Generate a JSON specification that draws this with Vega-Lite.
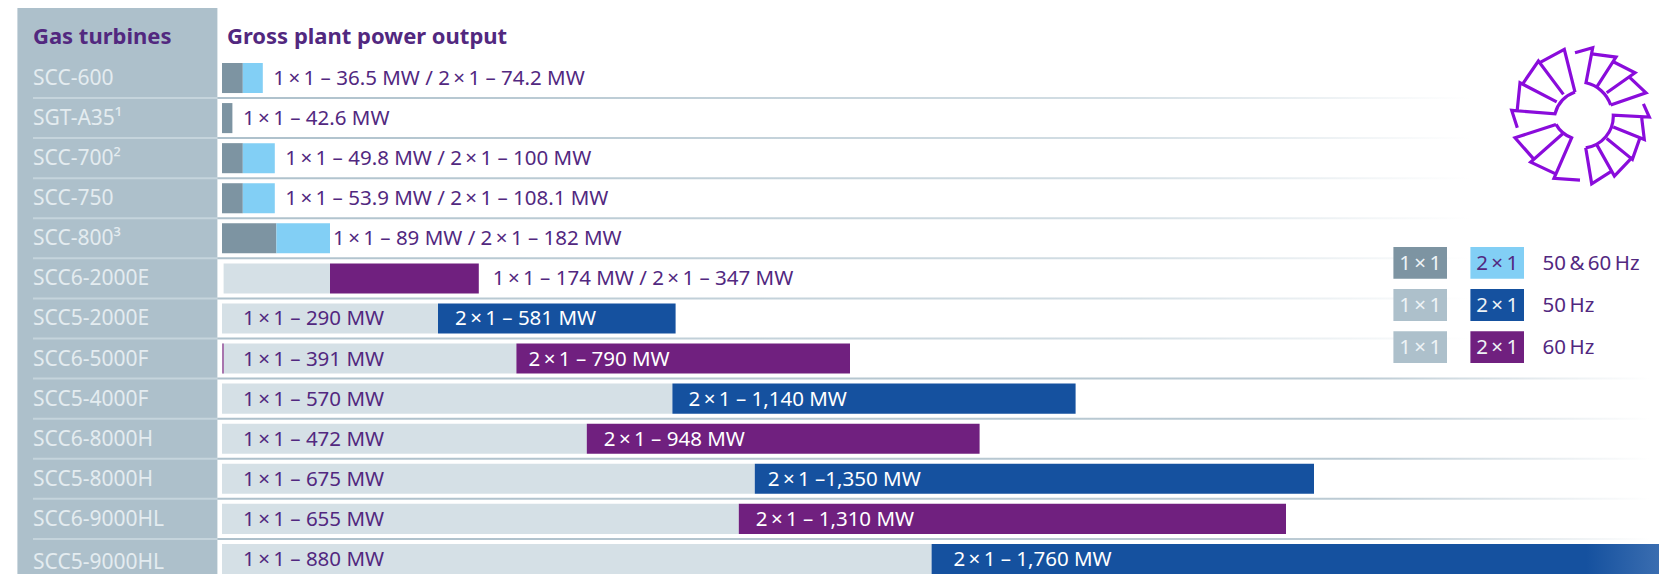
{
"$schema":"https://vega.github.io/schema/vega-lite/v6.json",
"width":1659,"height":574,
"autosize":{"type":"fit","contains":"padding"},
"padding":0,
"background":"#ffffff",
"config":{"view":{"stroke":null},"text":{"font":"Noto Sans"}},
"datasets":{
"turbines":[
{"turbine":"SCC-600","group":"upper"},{"turbine":"SGT-A35¹","group":"upper"},{"turbine":"SCC-700²","group":"upper"},{"turbine":"SCC-750","group":"upper"},{"turbine":"SCC-800³","group":"upper"},{"turbine":"SCC6-2000E","group":"upper"},{"turbine":"SCC5-2000E","group":"upper"},{"turbine":"SCC6-5000F","group":"lower"},{"turbine":"SCC5-4000F","group":"lower"},{"turbine":"SCC6-8000H","group":"lower"},{"turbine":"SCC5-8000H","group":"lower"},{"turbine":"SCC6-9000HL","group":"lower"},{"turbine":"SCC5-9000HL","group":"last"}],
"segments":[
{"turbine":"SCC-600","kind":"1x1 both","start":0,"end":26},{"turbine":"SCC-600","kind":"2x1 both","start":26,"end":51},
{"turbine":"SGT-A35¹","kind":"1x1 both","start":0,"end":13},
{"turbine":"SCC-700²","kind":"1x1 both","start":0,"end":26},{"turbine":"SCC-700²","kind":"2x1 both","start":26,"end":66},
{"turbine":"SCC-750","kind":"1x1 both","start":0,"end":26},{"turbine":"SCC-750","kind":"2x1 both","start":26,"end":66},
{"turbine":"SCC-800³","kind":"1x1 both","start":0,"end":68},{"turbine":"SCC-800³","kind":"2x1 both","start":68,"end":135},
{"turbine":"SCC6-2000E","kind":"1x1 single","start":2,"end":135},{"turbine":"SCC6-2000E","kind":"2x1 60","start":135,"end":321},
{"turbine":"SCC5-2000E","kind":"1x1 single","start":0,"end":270},{"turbine":"SCC5-2000E","kind":"2x1 50","start":270,"end":567},
{"turbine":"SCC6-5000F","kind":"1x1 single","start":0,"end":368},{"turbine":"SCC6-5000F","kind":"edge","start":0,"end":2.5},{"turbine":"SCC6-5000F","kind":"2x1 60","start":368,"end":785},
{"turbine":"SCC5-4000F","kind":"1x1 single","start":0,"end":563},{"turbine":"SCC5-4000F","kind":"2x1 50","start":563,"end":1067},
{"turbine":"SCC6-8000H","kind":"1x1 single","start":0,"end":456},{"turbine":"SCC6-8000H","kind":"2x1 60","start":456,"end":947},
{"turbine":"SCC5-8000H","kind":"1x1 single","start":0,"end":666},{"turbine":"SCC5-8000H","kind":"2x1 50","start":666,"end":1365},
{"turbine":"SCC6-9000HL","kind":"1x1 single","start":0,"end":646},{"turbine":"SCC6-9000HL","kind":"2x1 60","start":646,"end":1330},
{"turbine":"SCC5-9000HL","kind":"1x1 single","start":0,"end":887}],
"labels":[
{"turbine":"SCC-600","pos":"outer","at":51,"text":"1\u2009×\u20091 – 36.5 MW / 2\u2009×\u20091 – 74.2 MW"},
{"turbine":"SGT-A35¹","pos":"outer","at":13,"text":"1\u2009×\u20091 – 42.6 MW"},
{"turbine":"SCC-700²","pos":"outer","at":66,"text":"1\u2009×\u20091 – 49.8 MW / 2\u2009×\u20091 – 100 MW"},
{"turbine":"SCC-750","pos":"outer","at":66,"text":"1\u2009×\u20091 – 53.9 MW / 2\u2009×\u20091 – 108.1 MW"},
{"turbine":"SCC-800³","pos":"tight","at":135,"text":"1\u2009×\u20091 – 89 MW / 2\u2009×\u20091 – 182 MW"},
{"turbine":"SCC6-2000E","pos":"wide","at":321,"text":"1\u2009×\u20091 – 174 MW / 2\u2009×\u20091 – 347 MW"},
{"turbine":"SCC5-2000E","pos":"first","at":0,"text":"1\u2009×\u20091 – 290 MW"},{"turbine":"SCC5-2000E","pos":"second","at":270,"text":"2\u2009×\u20091 – 581 MW"},
{"turbine":"SCC6-5000F","pos":"first","at":0,"text":"1\u2009×\u20091 – 391 MW"},{"turbine":"SCC6-5000F","pos":"second","at":362,"text":"2\u2009×\u20091 – 790 MW"},
{"turbine":"SCC5-4000F","pos":"first","at":0,"text":"1\u2009×\u20091 – 570 MW"},{"turbine":"SCC5-4000F","pos":"second","at":562,"text":"2\u2009×\u20091 – 1,140 MW"},
{"turbine":"SCC6-8000H","pos":"first","at":0,"text":"1\u2009×\u20091 – 472 MW"},{"turbine":"SCC6-8000H","pos":"second","at":456,"text":"2\u2009×\u20091 – 948 MW"},
{"turbine":"SCC5-8000H","pos":"first","at":0,"text":"1\u2009×\u20091 – 675 MW"},{"turbine":"SCC5-8000H","pos":"second","at":661,"text":"2\u2009×\u20091 –1,350 MW"},
{"turbine":"SCC6-9000HL","pos":"first","at":0,"text":"1\u2009×\u20091 – 655 MW"},{"turbine":"SCC6-9000HL","pos":"second","at":646,"text":"2\u2009×\u20091 – 1,310 MW"},
{"turbine":"SCC5-9000HL","pos":"first","at":0,"text":"1\u2009×\u20091 – 880 MW"},{"turbine":"SCC5-9000HL","pos":"second","at":893,"text":"2\u2009×\u20091 – 1,760 MW"}],
"legend":[
{"row":"50\u2009&\u200960\u2009Hz","col":"1\u2009×\u20091","key":"a"},{"row":"50\u2009&\u200960\u2009Hz","col":"2\u2009×\u20091","key":"b"},
{"row":"50\u2009Hz","col":"1\u2009×\u20091","key":"c"},{"row":"50\u2009Hz","col":"2\u2009×\u20091","key":"d"},
{"row":"60\u2009Hz","col":"1\u2009×\u20091","key":"c"},{"row":"60\u2009Hz","col":"2\u2009×\u20091","key":"e"}]
},
"resolve":{"scale":{"x":"independent","y":"independent","color":"independent"}},
"layer":[
{"data":{"values":[{"panel":"side","row":"all"}]},
 "mark":{"type":"rect","fill":"#adc0cb"},
 "encoding":{
  "x":{"field":"panel","type":"nominal","axis":null,"scale":{"range":[17.4,217.4],"paddingInner":0,"paddingOuter":0}},
  "y":{"field":"row","type":"nominal","axis":null,"scale":{"range":[8,574],"paddingInner":0,"paddingOuter":0}}}},
{"encoding":{
  "y":{"field":"turbine","type":"nominal","axis":null,"scale":{"domain":["header","SCC-600","SGT-A35¹","SCC-700²","SCC-750","SCC-800³","SCC6-2000E","SCC5-2000E","SCC6-5000F","SCC5-4000F","SCC6-8000H","SCC5-8000H","SCC6-9000HL","SCC5-9000HL"],"range":[17.9,579],"paddingInner":0.25,"paddingOuter":0.125}}},
 "layer":[
 {"data":{"name":"turbines"},"transform":[{"filter":"datum.group!=='last'"}],
  "mark":{"type":"bar","height":2,"yOffset":20,"fill":"#c5d4dc"},
  "encoding":{"x":{"datum":-236.25,"type":"quantitative","axis":null,"scale":{"domain":[-277.5,1796.25],"range":[0,1659],"zero":false,"nice":false}},"x2":{"datum":-5.75}}},
 {"data":{"name":"turbines"},"transform":[{"filter":"datum.group==='upper'"}],
  "mark":{"type":"bar","height":2,"yOffset":20,"fill":{"gradient":"linear","x1":0,"x2":1,"y1":0,"y2":0,"stops":[{"offset":0,"color":"#adc0cb"},{"offset":0.72,"color":"#d3dee4"},{"offset":1,"color":"#ffffff"}]}},
  "encoding":{"x":{"datum":-5.75,"type":"quantitative"},"x2":{"datum":1560}}},
 {"data":{"name":"turbines"},"transform":[{"filter":"datum.group==='lower'"}],
  "mark":{"type":"bar","height":2,"yOffset":20,"fill":{"gradient":"linear","x1":0,"x2":1,"y1":0,"y2":0,"stops":[{"offset":0,"color":"#adc0cb"},{"offset":0.8,"color":"#bccbd4"},{"offset":1,"color":"#ffffff"}]}},
  "encoding":{"x":{"datum":-5.75,"type":"quantitative"},"x2":{"datum":1785}}},
 {"data":{"name":"segments"},
  "mark":{"type":"bar"},
  "encoding":{
   "x":{"field":"start","type":"quantitative"},"x2":{"field":"end"},
   "color":{"field":"kind","type":"nominal","legend":null,"scale":{"domain":["1x1 both","2x1 both","1x1 single","2x1 50","2x1 60","edge"],"range":["#7d94a2","#82cff5","#d5e0e6","#15519f","#70207f","#a875ae"]}}}},
 {"data":{"values":[{"turbine":"SCC5-9000HL","start":887,"end":1796.25}]},
  "mark":{"type":"bar","fill":{"gradient":"linear","x1":0,"x2":1,"y1":0,"y2":0,"stops":[{"offset":0,"color":"#15519f"},{"offset":0.9,"color":"#15519f"},{"offset":1,"color":"#3a6db0"}]}},
  "encoding":{"x":{"field":"start","type":"quantitative"},"x2":{"field":"end"}}},
 {"data":{"name":"turbines"},"transform":[{"filter":"datum.group!=='last'"}],
  "mark":{"type":"text","align":"left","baseline":"middle","dx":-189,"dy":1,"fontSize":21,"color":"#e4ecf0"},
  "encoding":{"x":{"datum":0,"type":"quantitative"},"text":{"field":"turbine"}}},
 {"data":{"name":"turbines"},"transform":[{"filter":"datum.group==='last'"}],
  "mark":{"type":"text","align":"left","baseline":"middle","dx":-189,"dy":4,"fontSize":21,"color":"#e4ecf0"},
  "encoding":{"x":{"datum":0,"type":"quantitative"},"text":{"field":"turbine"}}},
 {"data":{"values":[{"turbine":"header","t":"Gas turbines"}]},
  "mark":{"type":"text","align":"left","baseline":"middle","dx":-189,"dy":-1,"fontSize":22,"fontWeight":"bold","color":"#52287f"},
  "encoding":{"x":{"datum":0,"type":"quantitative"},"text":{"field":"t"}}},
 {"data":{"values":[{"turbine":"header","t":"Gross plant power output"}]},
  "mark":{"type":"text","align":"left","baseline":"middle","dx":5,"dy":-1,"fontSize":22,"fontWeight":"bold","color":"#52287f"},
  "encoding":{"x":{"datum":0,"type":"quantitative"},"text":{"field":"t"}}},
 {"data":{"name":"labels"},"transform":[{"filter":"datum.pos==='outer'"}],
  "mark":{"type":"text","align":"left","baseline":"middle","dx":10.5,"dy":1,"fontSize":20.5,"color":"#52287f"},
  "encoding":{"x":{"field":"at","type":"quantitative"},"text":{"field":"text"}}},
 {"data":{"name":"labels"},"transform":[{"filter":"datum.pos==='tight'"}],
  "mark":{"type":"text","align":"left","baseline":"middle","dx":3,"dy":1,"fontSize":20.5,"color":"#52287f"},
  "encoding":{"x":{"field":"at","type":"quantitative"},"text":{"field":"text"}}},
 {"data":{"name":"labels"},"transform":[{"filter":"datum.pos==='wide'"}],
  "mark":{"type":"text","align":"left","baseline":"middle","dx":14,"dy":1,"fontSize":20.5,"color":"#52287f"},
  "encoding":{"x":{"field":"at","type":"quantitative"},"text":{"field":"text"}}},
 {"data":{"name":"labels"},"transform":[{"filter":"datum.pos==='first'"}],
  "mark":{"type":"text","align":"left","baseline":"middle","dx":21,"dy":1,"fontSize":20.5,"color":"#52287f"},
  "encoding":{"x":{"field":"at","type":"quantitative"},"text":{"field":"text"}}},
 {"data":{"name":"labels"},"transform":[{"filter":"datum.pos==='second'"}],
  "mark":{"type":"text","align":"left","baseline":"middle","dx":17,"dy":1,"fontSize":20.5,"color":"#ffffff"},
  "encoding":{"x":{"field":"at","type":"quantitative"},"text":{"field":"text"}}},
 {"data":{"values":[{"turbine":"SGT-A35¹","at":1702.5}]},
  "mark":{"type":"point","filled":false,"opacity":1,"size":4,"stroke":"#8a0cdb","strokeWidth":3.2,"yOffset":-2,
   "shape":"M-9 -63.3L8.7 -68.3L2 -33.3A34 34 0 0 1 26.7 -11M7.7 -62.3L32 -59L13.3 -30M29.3 -54.3L51 -43.3L22.7 -23.3M44.3 -40L62 -23.3L26.7 -11M59.4 -12.3L65.3 1L29.3 -1A32 32 0 0 1 1.7 31.7M57.6 1L60.3 23.3L29.3 11M56 21.7L48.4 43.3L22.7 22.3M48.4 41L30.4 60L12.6 28.3M27.6 55L7.7 67.7L1.7 31.7M-4 64L-30 62.3L-12.4 21.7A30 30 0 0 1 -28 8.3M-27.3 58.3L-53.3 46L-21.3 17.7M-50 43.3L-69 21.7L-28 8.3M-66.7 11.7L-72.3 -5.7L-29 -2.3A32 32 0 0 1 -9 -24M-66.7 -6.7L-64 -33.3L-27.3 -14.3M-60.6 -33.3L-45.6 -55L-20.6 -21.7M-44.7 -53.3L-19.7 -66.7L-9 -24"},
  "encoding":{"x":{"field":"at","type":"quantitative"}}}
 ]},
{"encoding":{
  "x":{"field":"col","type":"nominal","axis":null,"scale":{"domain":["1\u2009×\u20091","2\u2009×\u20091","name"],"range":[1393.4,1601],"paddingInner":0.304,"paddingOuter":0}},
  "y":{"field":"row","type":"nominal","axis":null,"scale":{"domain":["50\u2009&\u200960\u2009Hz","50\u2009Hz","60\u2009Hz"],"range":[247,363],"paddingInner":0.245,"paddingOuter":0}}},
 "layer":[
 {"data":{"name":"legend"},"mark":{"type":"rect"},
  "encoding":{"color":{"field":"key","type":"nominal","legend":null,"scale":{"domain":["a","b","c","d","e"],"range":["#7d94a2","#82cff5","#adc0cb","#15519f","#70207f"]}}}},
 {"data":{"name":"legend"},"transform":[{"filter":"datum.key!=='b'"}],
  "mark":{"type":"text","fontSize":20.5,"dy":1,"color":"#eef3f6"},
  "encoding":{"text":{"field":"col"}}},
 {"data":{"name":"legend"},"transform":[{"filter":"datum.key==='b'"}],
  "mark":{"type":"text","fontSize":20.5,"dy":1,"color":"#52287f"},
  "encoding":{"text":{"field":"col"}}},
 {"data":{"values":[{"row":"50\u2009&\u200960\u2009Hz","col":"name"},{"row":"50\u2009Hz","col":"name"},{"row":"60\u2009Hz","col":"name"}]},
  "mark":{"type":"text","align":"left","baseline":"middle","dx":-31.6,"dy":1,"fontSize":20.5,"color":"#52287f"},
  "encoding":{"text":{"field":"row"}}}
 ]}
]
}
